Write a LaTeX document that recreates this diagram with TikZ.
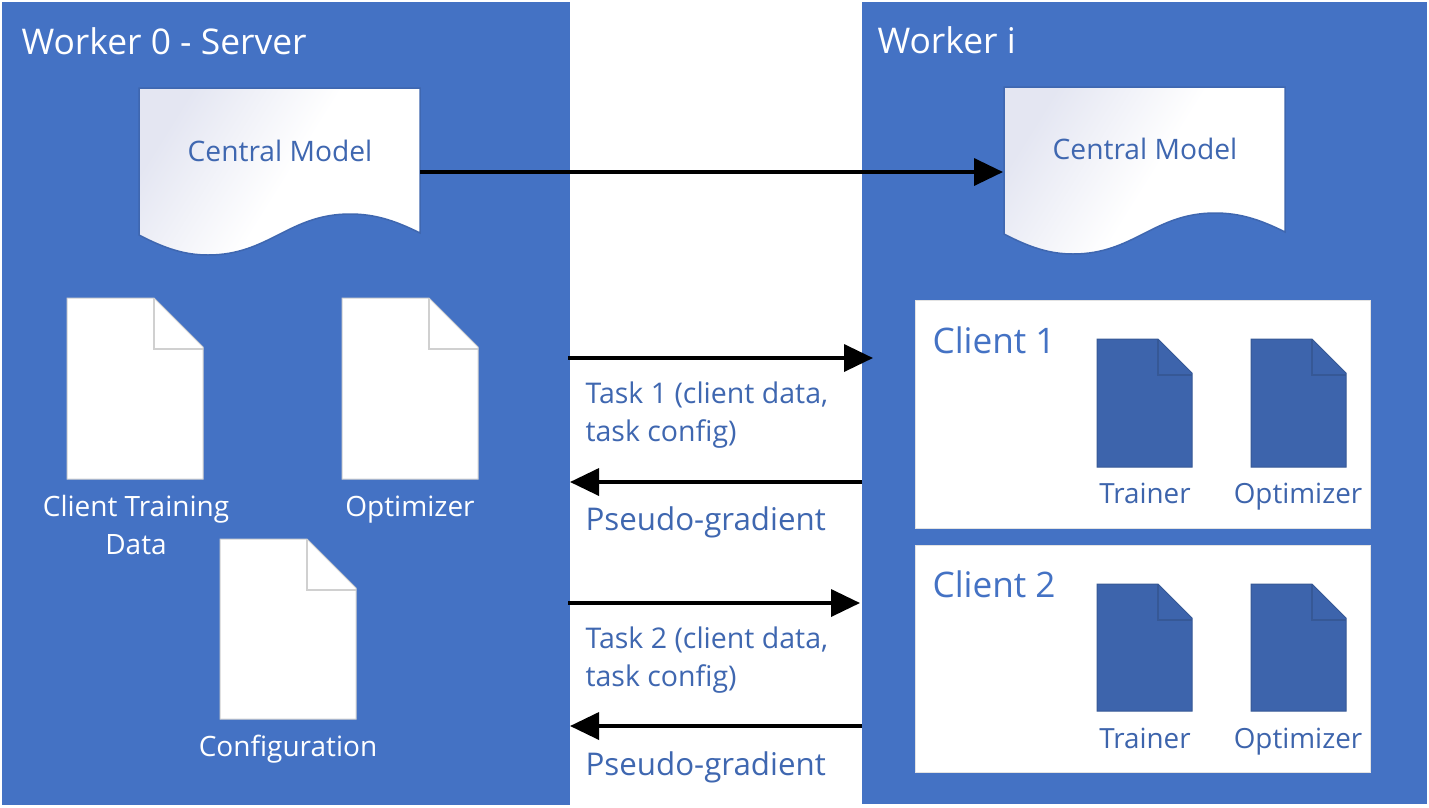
\documentclass[tikz,border=0pt]{standalone}
\usepackage{fontspec}
\setmainfont{Open Sans}
\usetikzlibrary{arrows.meta}
\definecolor{panelblue}{HTML}{4472C4}
\definecolor{darkdoc}{HTML}{3D64AC}
\definecolor{edgeblue}{HTML}{3F67B0}
\definecolor{foldgray}{HTML}{D0D0D0}
\definecolor{lavender}{HTML}{E4E6F2}
\pgfdeclareverticalshading{sheetfade}{100bp}{color(0bp)=(white); color(48bp)=(white); color(75bp)=(lavender); color(100bp)=(lavender)}
\tikzset{>={Triangle[length=29pt,width=27pt]}}
\tikzset{
  panel/.style={fill=panelblue},
  clientbox/.style={fill=white, draw=foldgray!60, line width=1pt},
  flow/.style={->, line width=3.6pt, black},
  title/.style={white, font=\fontsize{35.4}{36}\selectfont, anchor=west},
  clienttitle/.style={panelblue, font=\fontsize{35.2}{36}\selectfont, anchor=west},
  flowtext/.style={edgeblue, font=\fontsize{28.5}{38}\selectfont, anchor=west, align=left},
  gradtext/.style={edgeblue, font=\fontsize{31.3}{32}\selectfont, anchor=west},
  modeltext/.style={edgeblue, font=\fontsize{28.2}{29}\selectfont},
  whitetext/.style={white, font=\fontsize{28}{38}\selectfont, align=center},
  darktext/.style={darkdoc, font=\fontsize{27.8}{29}\selectfont}
}
% wavy sheet: #1 left, #2 top
\newcommand{\modelsheet}[2]{
  \begin{scope}[shift={(#1,#2)}]
  \path[draw=edgeblue, line width=1.5pt, shading=sheetfade, shading angle=58]
    (0,0) -- (281,0) -- (281,145)
    .. controls (255,132) and (235,126) .. (211,126)
    .. controls (150,126) and (130,167) .. (69,167)
    .. controls (45,167) and (25,160) .. (0,147) -- cycle;
  \end{scope}
}
% page with folded corner: #1 left, #2 top, #3 width, #4 height, #5 fold, #6 fill, #7 line
\newcommand{\foldpage}[7]{
  \draw[fill=#6, draw=#7, line width=1pt]
    (#1,#2) -- ++(#3-#5,0) -- ++(#5,#5) -- ++(0,#4-#5) -- ++(-#3,0) -- cycle;
  \draw[draw=#7, line width=1.5pt] (#1+#3-#5,#2) -- ++(0,#5+2) -- ++(#5,0);
}
\begin{document}
\begin{tikzpicture}[x=1pt, y=-1pt]
    \useasboundingbox (0,0) rectangle (1429,807);
    \fill[panel] (2,2) rectangle (570,805);
    \fill[panel] (862,2) rectangle (1427,804);
    \node[title] (servertitle) at (18,41) {Worker 0 - Server};
    \node[title] (workertitle) at (874,40) {Worker i};
    % central models
    \modelsheet{139}{88}
    \modelsheet{1004}{87}
    \node[modeltext] (servermodel) at (280,151) {Central Model};
    \node[modeltext] (workermodel) at (1145,149) {Central Model};
    % server files
    \foldpage{67}{298}{136}{181}{49}{white}{foldgray}
    \foldpage{342}{298}{136}{181}{49}{white}{foldgray}
    \foldpage{220}{539}{136}{180}{49}{white}{foldgray}
    \node[whitetext] (clientdata) at (136,525) {Client Training\\Data};
    \node[whitetext] (serveropt) at (410,510) {Optimizer};
    \node[whitetext] (config) at (288,749) {Configuration};
    % clients
    \node[clientbox, minimum width=455pt, minimum height=228pt, inner sep=0pt] (clientone) at (1142.5,414) {};
    \node[clientbox, minimum width=455pt, minimum height=227pt, inner sep=0pt] (clienttwo) at (1142.5,658.5) {};
    \node[clienttitle] (onetitle) at (929,340) {Client 1};
    \node[clienttitle] (twotitle) at (929,584) {Client 2};
    \foreach \docx in {1097,1251} {
      \foldpage{\docx}{339}{95}{128}{34}{darkdoc}{edgeblue!85!black}
      \foldpage{\docx}{584}{95}{127}{34}{darkdoc}{edgeblue!85!black}
    }
    \node[darktext] (trainerone) at (1145,493) {Trainer};
    \node[darktext] (optone) at (1298,497) {Optimizer};
    \node[darktext] (trainertwo) at (1145,738) {Trainer};
    \node[darktext] (opttwo) at (1298,742) {Optimizer};
    % connector ends
    \coordinate (modelout) at (420,172);
    \coordinate (modelin) at (1003,172);
    \coordinate (taskoneout) at (568,358);
    \coordinate (taskonein) at (873,358);
    \coordinate (gradoneout) at (862,482);
    \coordinate (gradonein) at (570,482);
    \coordinate (tasktwoout) at (568,603);
    \coordinate (tasktwoin) at (860,603);
    \coordinate (gradtwoout) at (862,726);
    \coordinate (gradtwoin) at (570,726);
    \draw[flow] (modelout) -- (modelin);
    \draw[flow] (taskoneout) -- (taskonein);
    \draw[flow] (gradoneout) -- (gradonein);
    \draw[flow] (tasktwoout) -- (tasktwoin);
    \draw[flow] (gradtwoout) -- (gradtwoin);
    \node[flowtext] (taskone) at (582,415) {Task 1 (client data,\\task config)};
    \node[gradtext] (gradone) at (582,522) {Pseudo-gradient};
    \node[flowtext] (tasktwo) at (582,660) {Task 2 (client data,\\task config)};
    \node[gradtext] (gradtwo) at (582,767) {Pseudo-gradient};
\end{tikzpicture}
\end{document}
